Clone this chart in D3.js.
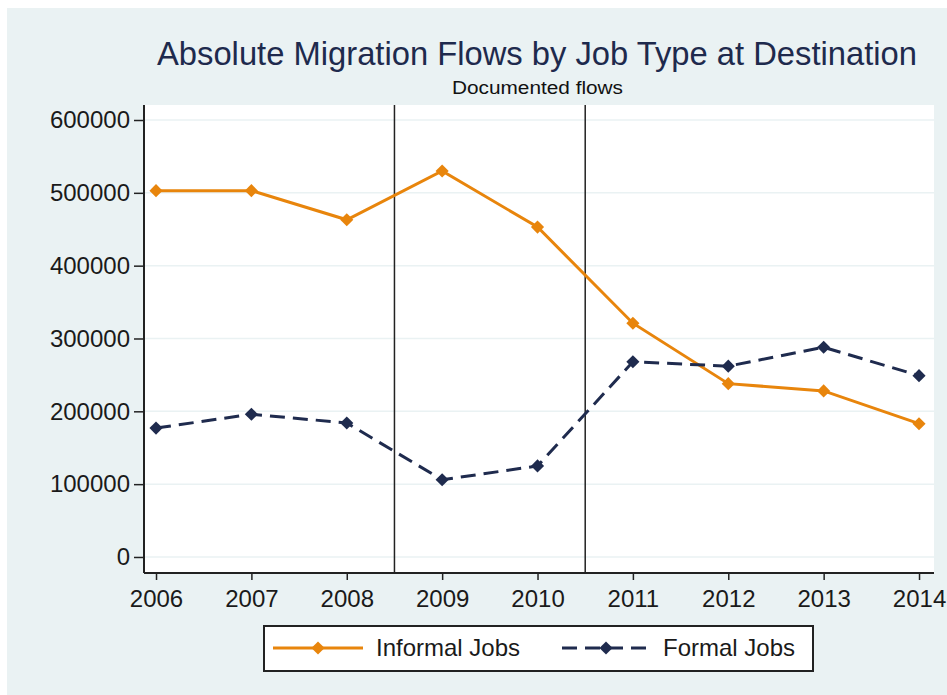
<!DOCTYPE html>
<html>
<head>
<meta charset="utf-8">
<script src="https://cdn.jsdelivr.net/npm/d3@7"></script>
<style>
  html, body { margin: 0; padding: 0; background: #fff; }
  svg { display: block; font-family: "Liberation Sans", Arial, sans-serif; }
</style>
</head>
<body>
<div id="chart"></div>
<script>
// Data
const years = [2006, 2007, 2008, 2009, 2010, 2011, 2012, 2013, 2014];
const informalJobs = [503000, 503000, 463000, 530000, 453000, 321000, 238000, 228000, 183000];
const formalJobs = [177000, 196000, 184000, 106000, 125000, 268000, 262000, 288000, 249000];
const yTicks = [0, 100000, 200000, 300000, 400000, 500000, 600000];
const breakYears = [2008.5, 2010.5];
const seriesNames = ['Informal Jobs', 'Formal Jobs'];

const width = 947, height = 695;
const orange = '#e8850c';
const navy = '#1f2b4e';
const bg = '#eaf2f3';

const svg = d3.select('#chart').append('svg')
    .attr('width', width)
    .attr('height', height);

// outer panel
svg.append('rect')
    .attr('x', 7).attr('y', 8)
    .attr('width', width - 7).attr('height', height - 8)
    .attr('fill', bg);

// plot region
const plot = {left: 144, right: 934, top: 105, bottom: 573};

const x = d3.scaleLinear()
    .domain([2005.874, 2014.157])
    .range([plot.left, plot.right]);

const y = d3.scaleLinear()
    .domain([-22000, 620600])
    .range([plot.bottom, plot.top]);

svg.append('rect')
    .attr('x', plot.left).attr('y', plot.top)
    .attr('width', plot.right - plot.left)
    .attr('height', plot.bottom - plot.top)
    .attr('fill', '#fff');

// grid lines
svg.append('g')
    .selectAll('line')
    .data(yTicks)
    .enter().append('line')
    .attr('x1', plot.left).attr('x2', plot.right)
    .attr('y1', d => y(d)).attr('y2', d => y(d))
    .attr('stroke', bg)
    .attr('stroke-width', 1.5);

// vertical reference lines
svg.append('g')
    .selectAll('line')
    .data(breakYears)
    .enter().append('line')
    .attr('x1', d => x(d)).attr('x2', d => x(d))
    .attr('y1', plot.top).attr('y2', plot.bottom)
    .attr('stroke', '#222')
    .attr('stroke-width', 1.5);

// axes
const yAxis = d3.axisLeft(y)
    .tickValues(yTicks)
    .tickFormat(d => String(d))
    .tickSize(10)
    .tickPadding(4);

const xAxis = d3.axisBottom(x)
    .tickValues(years)
    .tickFormat(d => String(d))
    .tickSize(7)
    .tickPadding(10);

const gy = svg.append('g')
    .attr('transform', `translate(${plot.left},0)`)
    .call(yAxis);
gy.select('.domain').attr('d', `M0,${plot.top}V${plot.bottom}`);

const gx = svg.append('g')
    .attr('transform', `translate(0,${plot.bottom})`)
    .call(xAxis);
gx.select('.domain').attr('d', `M${plot.left},0H${plot.right}`);

[gx, gy].forEach(g => {
    g.select('.domain').attr('stroke', '#222').attr('stroke-width', 2);
    g.selectAll('.tick line').attr('stroke', '#222').attr('stroke-width', 1.5);
    g.selectAll('.tick text')
        .attr('fill', '#1a1a1a')
        .style('font-size', '24px')
        .style('font-family', '"Liberation Sans", Arial, sans-serif');
});

// series
const diamond = d3.symbol().type(d3.symbolDiamond2).size(110);

const series = [
    {name: seriesNames[0], values: informalJobs, color: orange, dash: null},
    {name: seriesNames[1], values: formalJobs, color: navy, dash: '15,8'}
];

const line = d3.line()
    .x((d, i) => x(years[i]))
    .y(d => y(d));

series.forEach(s => {
    svg.append('path')
        .datum(s.values)
        .attr('d', line)
        .attr('fill', 'none')
        .attr('stroke', s.color)
        .attr('stroke-width', 3)
        .attr('stroke-dasharray', s.dash);

    svg.append('g')
        .selectAll('path')
        .data(s.values)
        .enter().append('path')
        .attr('d', diamond)
        .attr('transform', (d, i) => `translate(${x(years[i])},${y(d)})`)
        .attr('fill', s.color);
});

// titles
svg.append('text')
    .attr('x', 157).attr('y', 65)
    .attr('textLength', 760)
    .attr('lengthAdjust', 'spacingAndGlyphs')
    .attr('fill', '#1e2a4d')
    .style('font-size', '33px')
    .text('Absolute Migration Flows by Job Type at Destination');

svg.append('text')
    .attr('x', 452).attr('y', 94)
    .attr('textLength', 171)
    .attr('lengthAdjust', 'spacingAndGlyphs')
    .attr('fill', '#111')
    .style('font-size', '18px')
    .text('Documented flows');

// legend
const legend = svg.append('g');
legend.append('rect')
    .attr('x', 264).attr('y', 626)
    .attr('width', 549).attr('height', 45)
    .attr('fill', '#fff')
    .attr('stroke', '#222')
    .attr('stroke-width', 2);

const legendItems = [
    {s: series[0], x0: 273, x1: 363, tx: 376},
    {s: series[1], x0: 562, x1: 650, tx: 663}
];

legendItems.forEach(it => {
    legend.append('line')
        .attr('x1', it.x0).attr('x2', it.x1)
        .attr('y1', 648).attr('y2', 648)
        .attr('stroke', it.s.color)
        .attr('stroke-width', 3)
        .attr('stroke-dasharray', it.s.dash);
    legend.append('path')
        .attr('d', diamond)
        .attr('transform', `translate(${(it.x0 + it.x1) / 2},648)`)
        .attr('fill', it.s.color);
    legend.append('text')
        .attr('x', it.tx).attr('y', 656)
        .attr('fill', '#1a1a1a')
        .style('font-size', '24px')
        .text(it.s.name);
});
</script>
</body>
</html>
